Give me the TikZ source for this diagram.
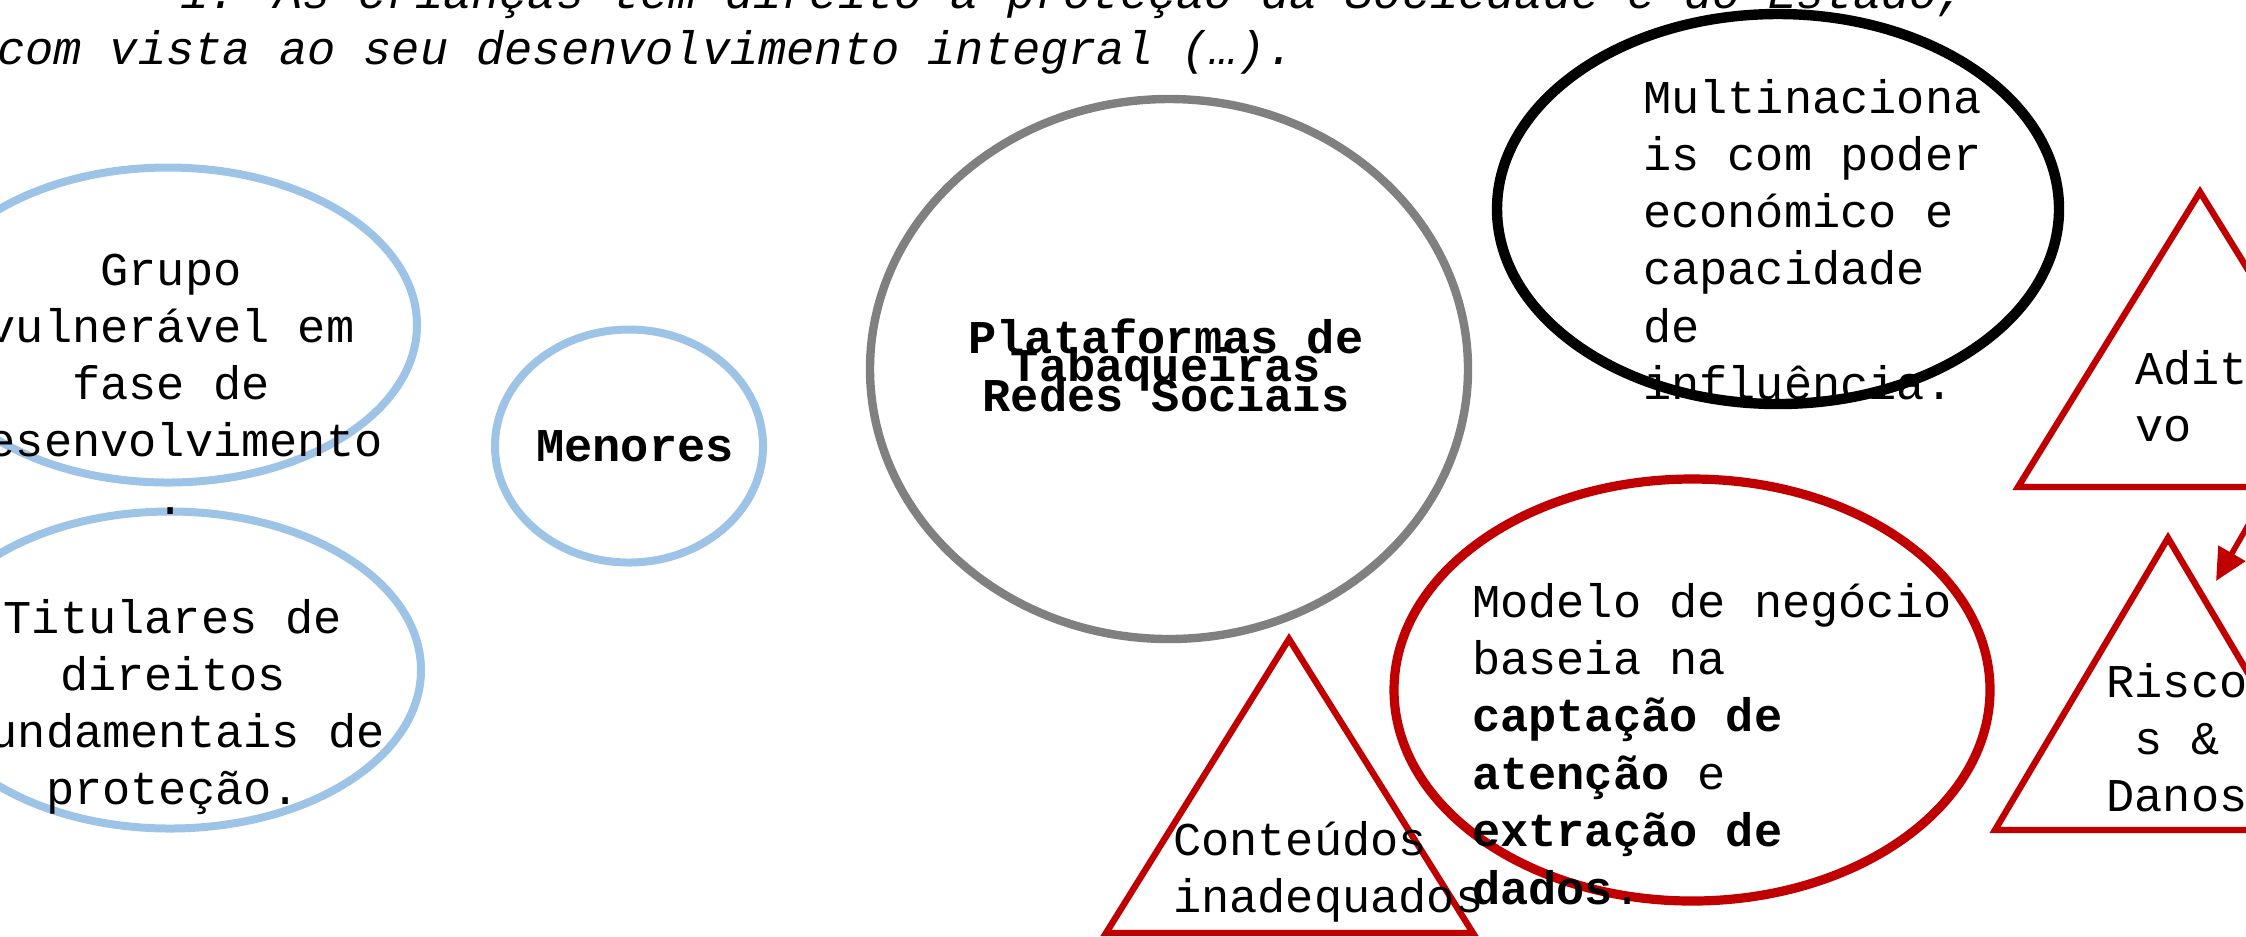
\documentclass[tikz,border=0pt]{standalone}
\usepackage{fontspec}
\setmainfont{Liberation Mono}
\usepackage{tikz}
\usetikzlibrary{shapes.geometric,arrows.meta}
\definecolor{lightblue}{HTML}{9DC3E6}
\definecolor{darkred}{HTML}{C00000}

\begin{document}
\begin{tikzpicture}[x=0.25pt,y=-0.25pt,
  every node/.style={inner sep=0pt,outer sep=0pt,font=\fontsize{11.75pt}{14pt}\selectfont},
  Boval/.style={ellipse,draw=lightblue,line width=2pt},
  Goval/.style={ellipse,draw=gray,line width=2.1pt},
  Koval/.style={ellipse,draw=black,line width=2.6pt},
  Roval/.style={ellipse,draw=darkred,line width=2.3pt},
  Rtri/.style={draw=darkred,line width=1.6pt},
  Rarrow/.style={draw=darkred,line width=1.4pt,-{Triangle[length=8pt,width=7.5pt]}},
  Qtxt/.style={font=\fontsize{11.75pt}{14pt}\selectfont\itshape}
]
\useasboundingbox (0,0) rectangle (2246,936);
\clip (0,0) rectangle (2246,936);

% the quoted article
\node[Qtxt,anchor=base west] (quote1) at (180,8) {1. As crianças têm direito à proteção da Sociedade e do Estado,};
\node[Qtxt,anchor=base west] (quote2) at (-3,64) {com vista ao seu desenvolvimento integral (…).};

% the blue ovals
\node[Boval,minimum width=124.5pt,minimum height=78.75pt] (grupo) at (168,325) {};
\node[Boval,minimum width=125.5pt,minimum height=79.25pt] (titulares) at (170,670) {};
\node[Boval,minimum width=67pt,minimum height=58.25pt] (menores) at (629,446) {};

% the other ovals
\node[Goval,minimum width=149.5pt,minimum height=135pt] (plataformas) at (1169,369) {};
\node[Koval,minimum width=140.5pt,minimum height=97.5pt] (multi) at (1778,209) {};
\node[Roval,minimum width=149pt,minimum height=105.5pt] (modelo) at (1692,690) {};

% the triangles
\draw[Rtri] (1106,933) -- (1289,639) -- (1473,933) -- cycle;
\draw[Rtri] (2018,487) -- (2200,192) -- (2382,487) -- cycle;
\draw[Rtri] (1995,830) -- (2168,538) -- (2341,830) -- cycle;

% the arrow
\coordinate (arrowTail) at (2270,487);
\coordinate (arrowTip) at (2216,581);
\draw[Rarrow] (arrowTail) -- (arrowTip);

% the texts
\foreach \t [count=\i] in {Grupo,vulnerável em,fase de,desenvolvimento,.}
  \node[anchor=base] (grupo\i) at (171,{285+57.3*(\i-1)}) {\t};
\foreach \t [count=\i] in {Titulares de,direitos,fundamentais de,proteção.}
  \node[anchor=base] (titulares\i) at (173,{633+57.3*(\i-1)}) {\t};
\node[anchor=base] (menores1) at (635,461) {\textbf{Menores}};
\node[anchor=base] (plataformas1) at (1166,353) {\textbf{Plataformas de}};
\node[anchor=base] (plataformas2) at (1166,411) {\textbf{Redes Sociais}};
\node[anchor=base] (tabaqueiras) at (1166,381) {\textbf{Tabaqueiras}};
\foreach \t [count=\i] in {Multinaciona,is com poder,económico e,capacidade,de,influência.}
  \node[anchor=base west] (multi\i) at (1643,{113+57.3*(\i-1)}) {\t};
\foreach \t [count=\i] in {Modelo de negócio,baseia na,\textbf{captação de},{\textbf{atenção} e},\textbf{extração de},\textbf{dados}.}
  \node[anchor=base west] (modelo\i) at (1472,{617+57.4*(\i-1)}) {\t};
\foreach \t [count=\i] in {Conteúdos,inadequados}
  \node[anchor=base west] (conteudos\i) at (1173,{855+57.3*(\i-1)}) {\t};
\foreach \t [count=\i] in {Aditi,vo}
  \node[anchor=base west] (aditivo\i) at (2135,{384+57.3*(\i-1)}) {\t};
\foreach \t [count=\i] in {Risco,s \&,Danos}
  \node[anchor=base] (riscos\i) at (2177,{697+57.3*(\i-1)}) {\t};

\end{tikzpicture}
\end{document}
